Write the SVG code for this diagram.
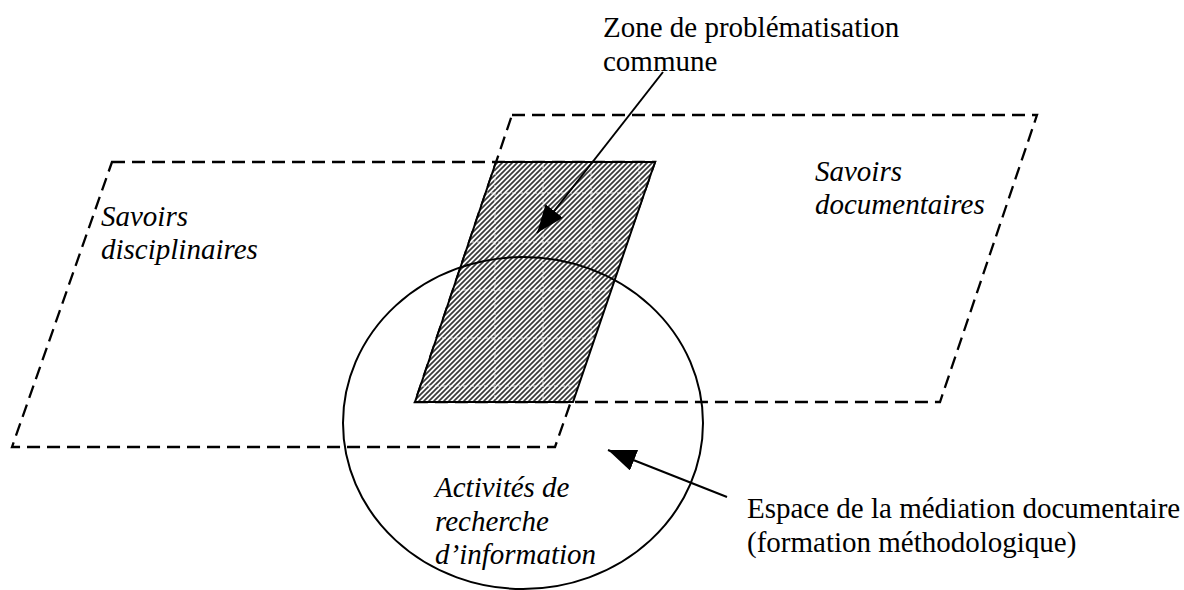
<svg xmlns="http://www.w3.org/2000/svg" width="1184" height="590" viewBox="0 0 1184 590">
<style>
.dash{fill:none;stroke:#000;stroke-width:2.3;stroke-dasharray:13 7}
.solid{fill:none;stroke:#000;stroke-width:2}
.t{font-family:"Liberation Serif","Times New Roman",serif;font-size:29px;fill:#000}
.i{font-style:italic}
</style>
<defs>
<pattern id="hatch" width="5" height="5" patternUnits="userSpaceOnUse">
<rect width="5" height="5" fill="#fff"/>
<path d="M0,5 L5,0 M-1,1 L1,-1 M4,6 L6,4" stroke="#3a3a3a" stroke-width="1.7"/>
</pattern>
<marker id="ah" markerUnits="userSpaceOnUse" markerWidth="30" markerHeight="24" refX="28" refY="11" orient="auto">
<path d="M0,0 L28,11 L0,22 z" fill="#000"/>
</marker>
<clipPath id="hc"><polygon points="496,162 655,162 573,402 415,402"/></clipPath>
</defs>
<g id="savoirs-disciplinaires">
<polygon class="dash" points="112,162 655,162 555,447 12,447"/>
<text class="t i" x="101" y="226">Savoirs</text>
<text class="t i" x="101" y="259">disciplinaires</text>
</g>
<g id="savoirs-documentaires">
<polygon class="dash" points="512,115 1037,115 940,402 415,402"/>
<text class="t i" x="815" y="181">Savoirs</text>
<text class="t i" x="815" y="214">documentaires</text>
</g>
<g id="zone-commune">
<polygon points="496,162 655,162 573,402 415,402" fill="url(#hatch)"/>
<g clip-path="url(#hc)" stroke="#fff" stroke-width="1" stroke-dasharray="4 3" opacity="0.8">
<path d="M495,150 V410 M543,150 V410 M591,150 V410 M639,150 V410 M400,193 H670 M400,242 H670 M400,290 H670 M400,338 H670 M400,386 H670"/>
</g>
<polygon class="solid" points="496,162 655,162 573,402 415,402"/>
<text class="t" x="603" y="37">Zone de problématisation</text>
<text class="t" x="603" y="71">commune</text>
</g>
<g id="mediation">
<ellipse class="solid" cx="523" cy="423" rx="180" ry="166"/>
<text class="t i" x="435" y="497">Activités de</text>
<text class="t i" x="435" y="531">recherche</text>
<text class="t i" x="435" y="564">d’information</text>
</g>
<g id="espace-label">
<text class="t" x="747" y="518">Espace de la médiation documentaire</text>
<text class="t" x="747" y="552">(formation méthodologique)</text>
</g>
<g id="connectors">
<line class="solid" x1="663" y1="72" x2="537" y2="233" marker-end="url(#ah)"/>
<line class="solid" x1="727" y1="497" x2="608" y2="450" marker-end="url(#ah)"/>
</g>
</svg>
